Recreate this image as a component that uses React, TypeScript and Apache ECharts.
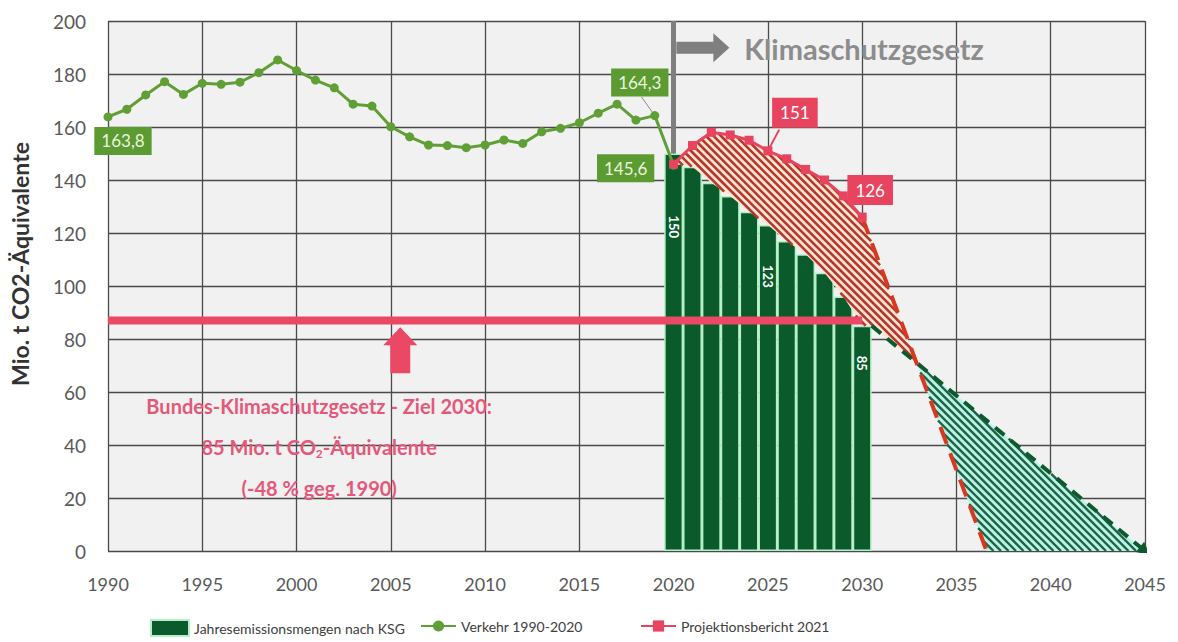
import React, { useEffect, useRef } from "react";
import * as echarts from "echarts";

const FONT = "Lato, 'Open Sans', sans-serif";

// Verkehr 1990-2020 (Mio. t CO2-Äquivalente)
const verkehrYears = [
  1990, 1991, 1992, 1993, 1994, 1995, 1996, 1997, 1998, 1999, 2000, 2001, 2002, 2003, 2004, 2005,
  2006, 2007, 2008, 2009, 2010, 2011, 2012, 2013, 2014, 2015, 2016, 2017, 2018, 2019, 2020,
];
const verkehrValues = [
  163.8, 166.7, 172.1, 177.1, 172.3, 176.5, 176.1, 176.9, 180.5, 185.3, 181.3, 177.7, 174.8, 168.6, 167.9, 160.1,
  156.3, 153.2, 153.0, 152.2, 153.2, 155.1, 153.8, 158.2, 159.5, 161.6, 165.2, 168.6, 162.6, 164.3, 145.6,
];

// Jahresemissionsmengen nach KSG
const ksgYears = [2020, 2021, 2022, 2023, 2024, 2025, 2026, 2027, 2028, 2029, 2030];
const ksgValues = [150, 145, 139, 134, 128, 123, 117, 112, 105, 96, 85];
const ksgLabelIndex = [0, 5, 10];
const ksgLabelDistance = [62, 40, 30];

// Projektionsbericht 2021
const projYears = [2020, 2021, 2022, 2023, 2024, 2025, 2026, 2027, 2028, 2029, 2030];
const projValues = [146, 153, 158, 157, 155, 151, 148, 144, 140, 134, 126];

// Extrapolations after 2030
const ksgPathYears = [2030.5, 2045];
const ksgPathValues = [85, 0];
const projPathYears = [2030, 2036.6];
const projPathValues = [126, 0];

// 2030 target line
const targetYears = [1990, 2030];
const targetValue = 87;

const X_MIN = 1990;
const X_MAX = 2045;
const X_STEP = 5;
const Y_MIN = 0;
const Y_MAX = 200;
const Y_STEP = 20;

const fmt = (v: number) => (Number.isInteger(v) ? String(v) : v.toFixed(1).replace(".", ","));

function intersect(a1: number[], a2: number[], b1: number[], b2: number[]) {
  const d = (a2[0] - a1[0]) * (b2[1] - b1[1]) - (a2[1] - a1[1]) * (b2[0] - b1[0]);
  const t = ((b1[0] - a1[0]) * (b2[1] - b1[1]) - (b1[1] - a1[1]) * (b2[0] - b1[0])) / d;
  return [a1[0] + t * (a2[0] - a1[0]), a1[1] + t * (a2[1] - a1[1])];
}

function stripes(pts: number[][], period: number, color: string, width: number) {
  const cs = pts.map((p) => p[1] - p[0]);
  const lo = Math.min(...cs);
  const hi = Math.max(...cs);
  const out: any[] = [];
  for (let c = Math.ceil(lo / period) * period; c <= hi; c += period) {
    const xs: number[] = [];
    for (let i = 0; i < pts.length; i++) {
      const a = pts[i];
      const b = pts[(i + 1) % pts.length];
      const fa = a[1] - a[0] - c;
      const fb = b[1] - b[0] - c;
      if (fa < 0 !== fb < 0) {
        const t = fa / (fa - fb);
        xs.push(a[0] + t * (b[0] - a[0]));
      }
    }
    xs.sort((m, n) => m - n);
    for (let k = 0; k + 1 < xs.length; k += 2) {
      out.push({
        type: "line",
        shape: { x1: xs[k], y1: xs[k] + c, x2: xs[k + 1], y2: xs[k + 1] + c },
        style: { stroke: color, lineWidth: width },
      });
    }
  }
  return out;
}

export default function App() {
  const ref = useRef<HTMLDivElement>(null);

  useEffect(() => {
    if (!ref.current) return;
    const chart = echarts.init(ref.current, undefined, { renderer: "svg" });

    const projPts = projYears.map((y, i) => [y, projValues[i]]);
    const ksgPts = ksgYears.map((y, i) => [y, Math.min(ksgValues[i], projValues[i])]);
    const ksgA = [ksgPathYears[0], ksgPathValues[0]];
    const ksgB = [ksgPathYears[1], ksgPathValues[1]];
    const projA = [projPathYears[0], projPathValues[0]];
    const projB = [projPathYears[1], projPathValues[1]];
    const cross = intersect(projA, projB, ksgA, ksgB);

    const redPoly = [...projPts, cross, ksgA, ...ksgPts.slice().reverse()];
    const tealPoly = [cross, projB, ksgB];

    const hatch = (poly: number[][], fill: string, stroke: string, period: number, width: number, z: number) => ({
      type: "custom",
      silent: true,
      z,
      data: [[poly[0][0], poly[0][1]]],
      renderItem: (_p: any, api: any) => {
        const pts = poly.map((p) => api.coord(p));
        return {
          type: "group",
          children: [
            { type: "polygon", shape: { points: pts }, style: { fill, stroke: "none" } },
            ...stripes(pts, period, stroke, width),
          ],
        };
      },
    });

    const greenLabel = (dx: number, dy: number) => ({
      show: true,
      position: "inside",
      offset: [dx, dy],
      formatter: (p: any) => fmt(p.value[1]),
      backgroundColor: "#5b9b31",
      color: "#eaf5df",
      padding: [6, 7, 5, 7],
      fontSize: 17,
      fontFamily: FONT,
    });
    const redLabel = (dx: number, dy: number) => ({
      show: true,
      position: "inside",
      offset: [dx, dy],
      formatter: (p: any) => fmt(p.value[1]),
      backgroundColor: "#e9445f",
      color: "#ffffff",
      padding: [7, 8, 6, 8],
      fontSize: 17,
      fontFamily: FONT,
    });

    const greenLabels: Record<number, any> = { 0: greenLabel(15, 24), 29: greenLabel(-15, -33), 30: greenLabel(-48, 3) };
    const redLabels: Record<number, any> = { 5: redLabel(27, -38), 10: redLabel(8, -27) };

    const legendText = { fontSize: 14, color: "#404040", fontFamily: FONT };

    const option: any = {
      animation: false,
      textStyle: { fontFamily: FONT },
      grid: {
        left: 105,
        right: 33,
        top: 21,
        bottom: 91,
        show: true,
        backgroundColor: "#f1f1f1",
        borderWidth: 0,
      },
      xAxis: {
        type: "value",
        min: X_MIN,
        max: X_MAX,
        interval: X_STEP,
        axisLine: { show: false },
        axisTick: { show: false },
        axisLabel: { color: "#595959", fontSize: 18, margin: 24, fontFamily: FONT, formatter: (v: number) => String(v) },
        splitLine: { show: true, lineStyle: { color: "#4a4a4a", width: 1.3 } },
      },
      yAxis: {
        type: "value",
        min: Y_MIN,
        max: Y_MAX,
        interval: Y_STEP,
        name: "Mio. t CO2-Äquivalente",
        nameLocation: "middle",
        nameGap: 77,
        nameTextStyle: {
          fontSize: 23,
          fontWeight: "bold",
          color: "#333",
          fontFamily: FONT,
          padding: [0, 0, 0, 44],
        },
        axisLine: { show: false },
        axisTick: { show: false },
        axisLabel: { color: "#595959", fontSize: 19, margin: 22, fontFamily: FONT },
        splitLine: { show: true, lineStyle: { color: "#4a4a4a", width: 1.3 } },
      },
      legend: [
        {
          left: 145,
          top: 614,
          itemWidth: 38,
          itemHeight: 16,
          textStyle: legendText,
          data: [{ name: "Jahresemissionsmengen nach KSG", icon: "rect" }],
        },
        {
          left: 415,
          top: 614,
          itemWidth: 35,
          itemHeight: 14,
          textStyle: legendText,
          data: ["Verkehr 1990-2020"],
        },
        {
          left: 635,
          top: 614,
          itemWidth: 35,
          itemHeight: 14,
          textStyle: legendText,
          data: ["Projektionsbericht 2021"],
        },
      ],
      series: [
        {
          name: "Jahresemissionsmengen nach KSG",
          type: "bar",
          z: 2,
          barWidth: 18.9,
          itemStyle: { color: "#0b5a2b", borderColor: "#b3f0c6", borderWidth: 1.5 },
          data: ksgYears.map((y, i) => {
            const item: any = { value: [y, ksgValues[i]] };
            const li = ksgLabelIndex.indexOf(i);
            if (li >= 0) {
              item.label = {
                show: true,
                position: "insideTop",
                distance: ksgLabelDistance[li],
                rotate: -90,
                align: "left",
                verticalAlign: "middle",
                color: "#ffffff",
                fontSize: 13,
                fontWeight: "bold",
                formatter: String(ksgValues[i]),
              };
            }
            return item;
          }),
        },
        hatch(redPoly, "#fce5d2", "#b5372c", 7.5, 2.6, 3),
        hatch(tealPoly, "#b8f3e4", "#1f6146", 7.5, 2.4, 3),
        {
          name: "Ziel 2030",
          type: "line",
          z: 4,
          symbol: "none",
          lineStyle: { color: "#ea4864", width: 8 },
          data: targetYears.map((y) => [y, targetValue]),
          markLine: {
            silent: true,
            symbol: "none",
            label: { show: false },
            data: [
              [
                { coord: [2020, 200], lineStyle: { color: "#7f7f7f", width: 5, type: "solid" } },
                { coord: [2020, 150] },
              ],
            ],
          },
          markPoint: {
            silent: true,
            data: [
              {
                coord: [2005.5, 75.8],
                symbol: "path://M17 0 L34 18 L27 18 L27 46 L7 46 L7 18 L0 18 Z",
                symbolSize: [34, 46],
                itemStyle: { color: "#ea4864" },
                label: { show: false },
              },
              {
                coord: [2021.55, 189.9],
                symbol: "path://M0 8.5 L37 8.5 L37 0 L53 14.5 L37 29 L37 20.5 L0 20.5 Z",
                symbolSize: [53, 29],
                itemStyle: { color: "#7f7f7f" },
                label: { show: false },
              },
              {
                coord: [2030.1, 189.7],
                symbol: "circle",
                symbolSize: 1,
                itemStyle: { color: "rgba(0,0,0,0)" },
                label: {
                  show: true,
                  position: "inside",
                  formatter: "Klimaschutzgesetz",
                  color: "#8c8c8c",
                  fontSize: 29,
                  fontWeight: "bold",
                  fontFamily: FONT,
                },
              },
              {
                coord: [2001.2, 39.2],
                symbol: "circle",
                symbolSize: 1,
                itemStyle: { color: "rgba(0,0,0,0)" },
                label: {
                  show: true,
                  position: "inside",
                  align: "center",
                  verticalAlign: "middle",
                  formatter: "Bundes-Klimaschutzgesetz - Ziel 2030:\n85 Mio. t CO{sub|2}-Äquivalente\n(-48 % geg. 1990)",
                  color: "#e4587a",
                  fontSize: 20,
                  fontWeight: "bold",
                  lineHeight: 41,
                  fontFamily: FONT,
                  rich: {
                    sub: { fontSize: 12, fontWeight: "bold", color: "#e4587a", padding: [12, 0, 0, 0], fontFamily: FONT },
                  },
                },
              },
            ],
          },
        },
        {
          name: "KSG Fortschreibung",
          type: "lines",
          coordinateSystem: "cartesian2d",
          z: 6,
          silent: true,
          symbol: ["none", "triangle"],
          symbolSize: 13,
          lineStyle: { color: "#0d5a2e", width: 4, type: [12, 8], opacity: 1 },
          data: [{ coords: [ksgA, ksgB] }],
        },
        {
          name: "Projektion Fortschreibung",
          type: "line",
          z: 6,
          symbol: "none",
          lineStyle: { color: "#d8381f", width: 4, type: [18, 10] },
          data: [projA, projB],
        },
        {
          name: "Verkehr 1990-2020",
          type: "line",
          z: 7,
          symbol: "circle",
          symbolSize: 9,
          lineStyle: { color: "#5f9f36", width: 3 },
          itemStyle: { color: "#5f9f36" },
          data: verkehrYears.map((y, i) => {
            const item: any = { value: [y, verkehrValues[i]] };
            if (greenLabels[i]) item.label = greenLabels[i];
            return item;
          }),
          markLine: {
            silent: true,
            symbol: "none",
            label: { show: false },
            data: [
              [
                { coord: [2019, 164.3], lineStyle: { color: "#8a8a8a", width: 1, type: "solid" } },
                { coord: [2018.3, 171.3] },
              ],
            ],
          },
        },
        {
          name: "Projektionsbericht 2021",
          type: "line",
          z: 7,
          symbol: "rect",
          symbolSize: 9,
          lineStyle: { color: "#e8435f", width: 3 },
          itemStyle: { color: "#e8435f" },
          data: projYears.map((y, i) => {
            const item: any = { value: [y, projValues[i]] };
            if (redLabels[i]) item.label = redLabels[i];
            return item;
          }),
          markLine: {
            silent: true,
            symbol: "none",
            label: { show: false },
            data: [
              [
                { coord: [2025, 151], lineStyle: { color: "#e8435f", width: 2, type: "solid" } },
                { coord: [2025.6, 159] },
              ],
            ],
          },
        },
      ],
    };

    chart.setOption(option);
    return () => chart.dispose();
  }, []);

  return (
    <div
      ref={ref}
      style={{ position: "fixed", left: 0, top: 0, width: 1178, height: 642, background: "#ffffff" }}
    />
  );
}
